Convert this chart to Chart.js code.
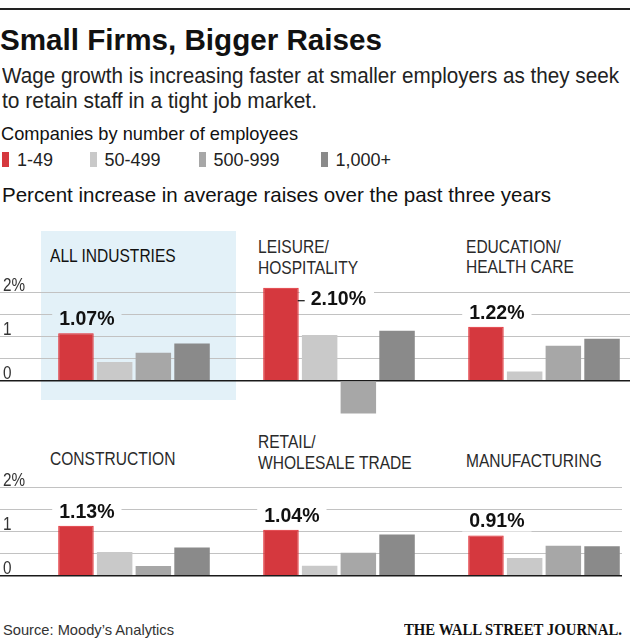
<!DOCTYPE html>
<html>
<head>
<meta charset="utf-8">
<script src="https://cdn.jsdelivr.net/npm/chart.js@4.4.0/dist/chart.umd.min.js"></script>
<style>
html, body { margin: 0; padding: 0; background: #fff; overflow: hidden; }
body { position: relative; width: 635px; height: 640px; font-family: "Liberation Sans", Arial, sans-serif; color: #1a1a1a; }
.t { position: absolute; white-space: nowrap; line-height: 1; transform-origin: 0 0; }
.rule { position: absolute; left: 0; top: 8px; width: 630px; height: 2px; background: #222; }
.box { position: absolute; left: 41px; top: 231px; width: 195px; height: 169px; background: #e3f1f8; }
.sw { position: absolute; top: 152px; width: 7px; height: 15px; }
.pt { position: absolute; white-space: nowrap; line-height: 1; font-size: 17.7px; color: #2a2a2a; transform: scaleX(0.88); transform-origin: 0 0; }
canvas { position: absolute; left: 0; }
</style>
</head>
<body>
<div class="rule"></div>
<div class="t" style="left:0px;top:24.6px;font-size:30px;font-weight:bold;color:#111" data-w="382">Small Firms, Bigger Raises</div>
<div class="t" style="left:2px;top:65.4px;font-size:22px;color:#222" data-w="617">Wage growth is increasing faster at smaller employers as they seek</div>
<div class="t" style="left:2px;top:89.7px;font-size:22px;color:#222" data-w="315">to retain staff in a tight job market.</div>
<div class="t" style="left:1px;top:126px;font-size:17.7px;color:#111" data-w="297">Companies by number of employees</div>
<div id="legend"></div>
<div class="t" style="left:2px;top:185px;font-size:20.4px;color:#111" data-w="549">Percent increase in average raises over the past three years</div>
<div class="box"></div>
<div id="titles"></div>
<canvas id="rowTop" width="635" height="155" style="top:270px"></canvas>
<canvas id="rowBottom" width="635" height="133" style="top:465px"></canvas>
<div class="t" style="left:3px;top:622.3px;font-size:15px;color:#333" data-w="171">Source: Moody’s Analytics</div>
<div class="t" style="left:404px;top:621.6px;font-size:16px;font-weight:bold;font-family:'Liberation Serif',serif;color:#111" data-w="218">THE WALL STREET JOURNAL.</div>
<script>
// panels (industries), two rows of three
const PANELS = [
    ["ALL INDUSTRIES"],
    ["LEISURE/", "HOSPITALITY"],
    ["EDUCATION/", "HEALTH CARE"],
    ["CONSTRUCTION"],
    ["RETAIL/", "WHOLESALE TRADE"],
    ["MANUFACTURING"],
];
// companies by number of employees
const SIZE_CLASSES = ["1-49", "50-499", "500-999", "1,000+"];
// percent increase in average raises over the past three years
const RAISE_1_49 = [1.07, 2.1, 1.22, 1.13, 1.04, 0.91];
const RAISE_50_499 = [0.42, 1.03, 0.21, 0.54, 0.23, 0.4];
const RAISE_500_999 = [0.63, -0.74, 0.79, 0.22, 0.52, 0.68];
const RAISE_1000_PLUS = [0.84, 1.13, 0.95, 0.64, 0.93, 0.67];
const Y_TICKS = [0, 0.5, 1, 1.5, 2];
const Y_LABELS = ["0", "", "1", "", "2%"];

const COLORS = ["#d5383e", "#c9c9c9", "#a7a7a7", "#8a8a8a"];
const HIGHLIGHT = "#e3f1f8";
const SANS = '"Liberation Sans", Arial, sans-serif';

// layout
const GROUP0_PX = 134;
const GROUP_STEP_PX = 205;
const TITLE_POS = [
    { x: 50, base: 262.7 },
    { x: 257.5, base: 254.3 },
    { x: 466, base: 253.5 },
    { x: 50, base: 465.5 },
    { x: 258, base: 449 },
    { x: 466, base: 468.3 },
];
const LEGEND_X = [2, 89.5, 198.5, 320.5];

// legend
const legend = document.getElementById("legend");
SIZE_CLASSES.forEach((name, i) => {
    const sw = document.createElement("div");
    sw.className = "sw";
    sw.style.left = LEGEND_X[i] + "px";
    sw.style.background = COLORS[i];
    legend.appendChild(sw);
    const tx = document.createElement("div");
    tx.className = "t";
    tx.style.left = LEGEND_X[i] + 15 + "px";
    tx.style.top = "150.5px";
    tx.style.fontSize = "18px";
    tx.style.color = "#222";
    tx.textContent = name;
    legend.appendChild(tx);
});

// panel titles
const titles = document.getElementById("titles");
PANELS.forEach((lines, p) => {
    lines.forEach((line, k) => {
        const d = document.createElement("div");
        d.className = "pt";
        d.style.left = TITLE_POS[p].x + "px";
        d.style.top = TITLE_POS[p].base + k * 20.5 - 0.8465 * 17.7 + "px";
        if (p == 0) d.style.color = "#111";
        d.textContent = line;
        titles.appendChild(d);
    });
});

// squeeze header text to the measured widths
document.querySelectorAll("[data-w]").forEach((el) => {
    const w = el.getBoundingClientRect().width;
    el.style.transform = "scaleX(" + +el.dataset.w / w + ")";
});

const raiseLabels = {
    id: "raiseLabels",
    afterDatasetsDraw(chart, args, opts) {
        const ctx = chart.ctx;
        const yScale = chart.scales.y;
        ctx.save();

        // y axis numbers sit just above their lines
        ctx.fillStyle = "#333";
        ctx.font = "18px " + SANS;
        Y_TICKS.forEach((v, i) => {
            if (!Y_LABELS[i]) return;
            ctx.save();
            ctx.translate(3, yScale.getPixelForValue(v) - 1.5);
            ctx.scale(0.85, 1);
            ctx.fillText(Y_LABELS[i], 0, 0);
            ctx.restore();
        });

        // callouts for the smallest firms
        const meta = chart.getDatasetMeta(0);
        const top = Y_TICKS[Y_TICKS.length - 1];
        ctx.font = "bold 19.5px " + SANS;
        meta.data.forEach((bar, i) => {
            const v = chart.data.datasets[0].data[i].y;
            const text = v.toFixed(2) + "%";
            const w = ctx.measureText(text).width;
            const left = bar.x - bar.width / 2;
            const right = bar.x + bar.width / 2;
            const cap = 14;
            let tx, base, maskL, maskR;
            if (v >= top) {
                tx = right + 12;
                base = bar.y + 17;
                maskL = right + 1;
                maskR = tx + w + 8;
            } else {
                tx = left + 1;
                base = bar.y - 8;
                maskL = tx - 7;
                maskR = tx + w + 7;
            }
            ctx.fillStyle = opts.highlight === i ? HIGHLIGHT : "#fff";
            ctx.fillRect(maskL, base - cap - 3, maskR - maskL, cap + 7);
            if (v >= top) {
                ctx.strokeStyle = "#111";
                ctx.lineWidth = 1.2;
                ctx.beginPath();
                ctx.moveTo(right - 1, base - 4);
                ctx.lineTo(right + 6, base - 4);
                ctx.stroke();
            }
            ctx.fillStyle = "#111";
            ctx.fillText(text, tx, base);
        });
        ctx.restore();
    },
};

function createRow(canvas, start, yMin, rightPad, highlight) {
    const idx = [0, 1, 2];
    const series = [RAISE_1_49, RAISE_50_499, RAISE_500_999, RAISE_1000_PLUS];
    const areaW = canvas.width - rightPad;

    const datasets = series.map((vals, s) => ({
        label: SIZE_CLASSES[s],
        data: idx.map((i) => ({ x: i, y: vals[start + i] })),
        backgroundColor: COLORS[s],
        borderColor: s == 0 ? "#e2232b" : COLORS[s],
        borderWidth: s == 0 ? 1 : 0,
        categoryPercentage: 0.755,
        barPercentage: 0.917,
    }));

    return new Chart(canvas, {
        type: "bar",
        data: { datasets: datasets },
        options: {
            responsive: false,
            animation: false,
            layout: { padding: { left: 0, right: rightPad, top: 0, bottom: 0 } },
            plugins: {
                legend: { display: false },
                tooltip: { enabled: false },
                raiseLabels: { highlight: highlight },
            },
            scales: {
                x: {
                    type: "linear",
                    display: false,
                    offset: false,
                    min: -GROUP0_PX / GROUP_STEP_PX,
                    max: (areaW - GROUP0_PX) / GROUP_STEP_PX,
                    afterBuildTicks: (scale) => {
                        scale.ticks = idx.map((v) => ({ value: v }));
                    },
                    grid: { display: false },
                },
                y: {
                    min: yMin,
                    max: 2.5,
                    ticks: { display: false, stepSize: 0.5 },
                    border: { display: false },
                    grid: {
                        drawTicks: false,
                        color: function (context) {
                            const v = context.tick.value;
                            if (v == 0) return "#1a1a1a";
                            if (v < 0 || v > 2) return "rgba(0,0,0,0)";
                            return "#c2c2c2";
                        },
                        lineWidth: function (context) {
                            return context.tick.value == 0 ? 1.6 : 1;
                        },
                    },
                },
            },
        },
        plugins: [raiseLabels],
    });
}

createRow(document.getElementById("rowTop"), 0, -1, 5, 0);
createRow(document.getElementById("rowBottom"), 3, -0.5, 13, -1);
</script>
</body>
</html>
